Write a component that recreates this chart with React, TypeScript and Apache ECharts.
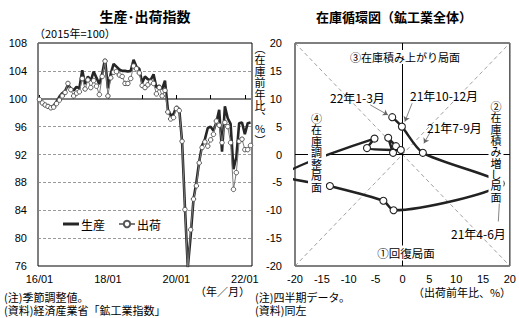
import { useEffect, useRef } from "react";
import * as echarts from "echarts";

const JP = "'Noto Sans CJK JP', sans-serif";
const NUM = "'Liberation Sans', Arial, sans-serif";

// monthly categories 2016/01 .. 2022/03
const MONTHS: string[] = [];
for (let y = 16; y <= 22; y++) {
  for (let m = 1; m <= 12; m++) {
    if (y === 22 && m > 3) break;
    MONTHS.push(`${y}/${m < 10 ? "0" + m : m}`);
  }
}

const PRODUCTION = [
  100.0, 99.3, 99.1, 99.0, 98.8, 99.0, 99.6, 100.3, 100.8, 101.1, 102.0, 101.5,
  101.2, 101.7, 101.5, 104.1, 102.1, 103.2, 102.6, 103.9, 103.0, 102.1, 103.6, 105.7,
  101.5, 103.6, 105.0, 104.6, 104.2, 104.0, 104.0, 103.9, 104.0, 105.6, 104.6, 104.3,
  102.3, 103.2, 102.8, 102.7, 103.5, 101.6, 101.9, 101.4, 102.6, 98.5, 97.6, 97.8,
  98.9, 98.5, 93.8, 84.4, 75.8, 80.3, 85.6, 88.0, 91.0, 93.3, 94.2, 95.8,
  96.0, 95.4, 96.6, 98.4, 92.4, 98.9, 97.2, 96.4, 89.9, 91.6, 96.5, 96.6,
  94.9, 96.5, 96.6,
];

const SHIPMENTS = [
  99.9, 99.4, 99.1, 98.9, 98.7, 98.8, 99.3, 99.8, 100.4, 100.9, 102.2, 101.3,
  100.4, 100.8, 101.0, 102.9, 101.4, 102.7, 101.6, 102.6, 101.8, 100.6, 103.2, 105.4,
  100.4, 103.0, 103.8, 103.9, 103.4, 103.2, 102.2, 102.2, 102.9, 104.7, 104.3, 103.7,
  101.9, 101.6, 102.0, 102.4, 102.2, 100.7, 101.6, 100.4, 101.2, 98.1, 97.1, 97.3,
  98.6, 98.3, 93.9, 84.1, 75.5, 81.2, 85.6, 87.5, 90.8, 93.0, 93.8, 93.2,
  94.1, 94.9, 96.8, 96.2, 93.7, 96.6, 96.0, 93.7, 87.0, 89.4, 93.9, 94.2,
  92.7, 92.7, 93.3,
];

const INDEX_TICKS = { min: 76, max: 108, step: 4 };

// quarterly inventory cycle (2018Q4 .. 2022Q1)
const QUARTERS = [
  "18Q4", "19Q1", "19Q2", "19Q3", "19Q4", "20Q1", "20Q2",
  "20Q3", "20Q4", "21Q1", "21Q2", "21Q3", "21Q4", "22Q1",
];
const SHIP_YOY = [-1.75, -2.65, -1.2, -0.3, -6.6, -5.2, -22.0, -13.5, -3.55, -1.65, 18.3, 3.8, -0.1, -1.9];
const INV_YOY = [0.3, 3.0, 1.5, 0.8, 1.15, 2.85, -3.8, -5.65, -8.3, -10.0, -5.2, 0.3, 5.0, 6.7];

const YOY_TICKS = { min: -20, max: 20, step: 5 };

const vtext = (s: string) => Array.from(s).join("\n");

export default function App() {
  const ref = useRef<HTMLDivElement>(null);
  useEffect(() => {
    const chart = echarts.init(ref.current!, null, { renderer: "svg" });
    const cyclePts = SHIP_YOY.map((x, i) => [x, INV_YOY[i], QUARTERS[i]]);

    const t = (text: string, x: number, y: number, extra: any = {}) => ({
      type: "text",
      x,
      y,
      z: 100,
      zlevel: 1,
      silent: true,
      style: {
        text,
        fill: "#000",
        fontSize: 11,
        fontFamily: JP,
        align: "left",
        verticalAlign: "middle",
        ...extra,
      },
    });
    const mask = (x: number, y: number, w: number, h: number) => ({
      type: "rect",
      z: 99,
      zlevel: 1,
      silent: true,
      shape: { x, y, width: w, height: h },
      style: { fill: "#fff", stroke: "none" },
    });

    const option: any = {
      animation: false,
      backgroundColor: "#fff",
      grid: [
        { left: 38, top: 43, width: 214, height: 223, show: true, borderColor: "#000", borderWidth: 1, backgroundColor: "transparent" },
        { left: 295, top: 43, width: 223, height: 223, show: true, borderColor: "#000", borderWidth: 1, backgroundColor: "transparent" },
      ],
      legend: {
        data: [
          { name: "生産", icon: "path://M0 0H16V3H0Z", itemStyle: { color: "#262626", borderWidth: 0 } },
          { name: "出荷" },
        ],
        left: 58,
        top: 213,
        itemWidth: 16,
        itemHeight: 8,
        itemGap: 13,
        textStyle: { fontSize: 12, fontFamily: JP, color: "#000", padding: [0, 0, 0, -3] },
        selectedMode: false,
      },
      xAxis: [
        {
          type: "category",
          gridIndex: 0,
          data: MONTHS,
          boundaryGap: true,
          axisLine: { show: false },
          axisTick: { show: false },
          axisLabel: { interval: 23, fontSize: 11, fontFamily: NUM, color: "#000", margin: 7 },
          splitLine: { show: false },
        },
        {
          type: "category",
          gridIndex: 0,
          data: MONTHS,
          boundaryGap: true,
          position: "bottom",
          offset: -167,
          axisLine: { show: true, lineStyle: { color: "#7f7f7f", width: 2 } },
          axisTick: { show: true, inside: true, length: 4, alignWithLabel: true, interval: 11, lineStyle: { color: "#000", width: 1 } },
          axisLabel: { show: false },
          splitLine: { show: false },
        },
        {
          type: "value",
          gridIndex: 1,
          min: YOY_TICKS.min,
          max: YOY_TICKS.max,
          interval: YOY_TICKS.step,
          axisLine: { show: false, onZero: false },
          axisTick: { show: false },
          splitLine: { show: false },
          axisLabel: { fontSize: 11, fontFamily: NUM, color: "#000", margin: 7 },
        },
      ],
      yAxis: [
        {
          type: "value",
          gridIndex: 0,
          min: INDEX_TICKS.min,
          max: INDEX_TICKS.max,
          interval: INDEX_TICKS.step,
          axisLine: { show: false },
          axisTick: { show: false },
          axisLabel: { fontSize: 11, fontFamily: NUM, color: "#000", margin: 11 },
          splitLine: { show: true, lineStyle: { color: "#808080", width: 0.8, type: [3, 2] } },
        },
        {
          type: "value",
          gridIndex: 1,
          min: YOY_TICKS.min,
          max: YOY_TICKS.max,
          interval: YOY_TICKS.step,
          axisLine: { show: false, onZero: false },
          axisTick: { show: false },
          splitLine: { show: false },
          axisLabel: { fontSize: 11, fontFamily: NUM, color: "#000", margin: 13 },
        },
      ],
      series: [
        {
          name: "生産",
          type: "line",
          xAxisIndex: 0,
          yAxisIndex: 0,
          data: PRODUCTION,
          symbol: "none",
          clip: true,
          lineStyle: { color: "#262626", width: 2.6 },
          itemStyle: { color: "#262626" },
          z: 3,
        },
        {
          name: "出荷",
          type: "line",
          xAxisIndex: 0,
          yAxisIndex: 0,
          data: SHIPMENTS,
          symbol: "circle",
          symbolSize: 4.5,
          showAllSymbol: true,
          clip: true,
          lineStyle: { color: "#7a7a7a", width: 1 },
          itemStyle: { color: "#fff", borderColor: "#555", borderWidth: 1 },
          z: 4,
        },
        {
          name: "ref",
          type: "line",
          xAxisIndex: 2,
          yAxisIndex: 1,
          data: [],
          silent: true,
          z: 1,
          markLine: {
            silent: true,
            symbol: ["none", "none"],
            label: { show: false },
            lineStyle: { color: "#888", width: 0.8, type: [4, 3] },
            data: [
              [{ coord: [-20, 20] }, { coord: [20, -20] }],
              [{ coord: [-20, -20] }, { coord: [20, 20] }],
              [{ coord: [0, -20], lineStyle: { color: "#000", width: 1, type: "solid" } }, { coord: [0, 20] }],
              [{ coord: [-20, 0], lineStyle: { color: "#000", width: 1, type: "solid" } }, { coord: [20, 0] }],
            ],
          },
        },
        {
          name: "arrows",
          type: "line",
          xAxisIndex: 2,
          yAxisIndex: 1,
          data: [],
          silent: true,
          z: 2,
          markLine: {
            silent: true,
            symbol: ["none", "arrow"],
            symbolSize: 5,
            label: { show: false },
            lineStyle: { color: "#666", width: 0.8, type: "solid" },
            data: [
              [{ coord: [-6.0, 8.9] }, { coord: [-2.7, 7.1] }],
              [{ coord: [1.8, 9.2] }, { coord: [0.45, 5.9] }],
              [{ coord: [5.1, 3.9] }, { coord: [4.0, 2.0] }],
              [{ coord: [17.85, -12.0] }, { coord: [18.2, -6.0] }],
            ],
          },
        },
        {
          name: "在庫循環",
          type: "line",
          xAxisIndex: 2,
          yAxisIndex: 1,
          data: cyclePts,
          smooth: 0.25,
          symbol: "circle",
          symbolSize: 7,
          showAllSymbol: true,
          clip: true,
          lineStyle: { color: "#222", width: 2.5 },
          itemStyle: { color: "#fff", borderColor: "#222", borderWidth: 1.1 },
          z: 5,
        },
      ],
      graphic: [
        t("生産･出荷指数", 145, 16, { fontSize: 14, fontWeight: "bold", align: "center" }),
        t("在庫循環図（鉱工業全体）", 394, 16, { fontSize: 13, fontWeight: "bold", align: "center" }),
        t("（2015年=100）", 34, 33, { fontSize: 11 }),
        t(vtext("︵在庫前年比︑%︶"), 260, 42, { fontSize: 11, align: "center", verticalAlign: "top", lineHeight: 11.5 }),
        t("（年／月）", 250, 291, { fontSize: 11, align: "right" }),
        t("（出荷前年比、%）", 462, 292, { fontSize: 11, align: "center" }),
        t("(注)季節調整値。", 4, 297, { fontSize: 11 }),
        t("(資料)経済産業省「鉱工業指数」", 4, 309.5, { fontSize: 11 }),
        t("(注)四半期データ。", 255, 297, { fontSize: 11 }),
        t("(資料)同左", 255, 309.5, { fontSize: 11 }),
        mask(348, 50, 114, 14),
        t("③在庫積み上がり局面", 405, 57, { fontSize: 11, align: "center" }),
        mask(374, 245.5, 64, 15),
        t("①回復局面", 406, 253, { fontSize: 11.5, align: "center" }),
        mask(308, 111, 18, 83),
        t(vtext("④在庫調整局面"), 316.5, 112, { fontSize: 11, align: "center", verticalAlign: "top", lineHeight: 11.5 }),
        mask(488.5, 99.5, 15, 104),
        t(vtext("②在庫積み増し局面"), 496, 100.5, { fontSize: 11, align: "center", verticalAlign: "top", lineHeight: 11.3 }),
        t("22年1-3月", 330, 97, { fontSize: 12 }),
        t("21年10-12月", 410, 95, { fontSize: 12 }),
        t("21年7-9月", 427, 127, { fontSize: 12 }),
        t("21年4-6月", 451, 233, { fontSize: 12 }),
      ],
    };
    chart.setOption(option);
    return () => chart.dispose();
  }, []);
  return (
    <div
      ref={ref}
      style={{ position: "fixed", left: 0, top: 0, width: 519, height: 318, background: "#fff" }}
    />
  );
}
